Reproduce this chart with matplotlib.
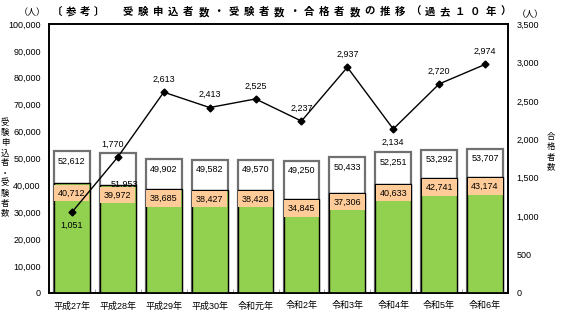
import matplotlib
matplotlib.use("Agg")
import matplotlib.pyplot as plt
import numpy as np

plt.rcParams['font.family'] = ['Liberation Sans', 'Noto Sans CJK JP']

years = ['平成27年', '平成28年', '平成29年', '平成30年', '令和元年',
         '令和2年', '令和3年', '令和4年', '令和5年', '令和6年']
applicants = [52612, 51953, 49902, 49582, 49570, 49250, 50433, 52251, 53292, 53707]
examinees = [40712, 39972, 38685, 38427, 38428, 34845, 37306, 40633, 42741, 43174]
passers = [1051, 1770, 2613, 2413, 2525, 2237, 2937, 2134, 2720, 2974]

fig = plt.figure(figsize=(5.7, 3.22), dpi=100)
ax = fig.add_axes([49 / 570, 29 / 322, 459 / 570, 269 / 322])
x = np.arange(len(years))
w = 0.78

# 受験申込者数（白）と受験者数（緑）
ax.bar(x, applicants, width=w, color='white', edgecolor='#707070', linewidth=1.6, zorder=2)
ax.bar(x, examinees, width=w, color='#92D050', edgecolor='black', linewidth=1.0, zorder=3)

ax.set_xlim(-0.5, len(years) - 0.5)
ax.set_ylim(0, 100000)
ax.set_yticks(np.arange(0, 100001, 10000))
ax.set_yticklabels([f'{v:,}' for v in range(0, 100001, 10000)], fontsize=6.5)
ax.set_xticks(x)
ax.set_xticklabels(years, fontsize=6.5)
ax.set_xticks(x[:-1] + 0.5, minor=True)
ax.tick_params(axis='x', which='major', length=0, pad=6)
ax.tick_params(axis='x', which='minor', length=3, direction='in', color='#999999')
ax.tick_params(axis='y', length=0, pad=6)
for s in ax.spines.values():
    s.set_linewidth(1.2)

# ラベル
for i in range(len(years)):
    off = -4
    dx = 0
    if i == 1:
        off = -19
        dx = 5
    ax.annotate(f'{applicants[i]:,}', (x[i], applicants[i]), xytext=(dx, off),
                textcoords='offset points', ha='center', va='top', fontsize=6.5, zorder=6)
    ax.annotate(f'{examinees[i]:,}', (x[i], examinees[i]), xytext=(0, -3.5),
                textcoords='offset points', ha='center', va='top', fontsize=6.5, zorder=6,
                bbox=dict(boxstyle='square,pad=0.42', fc='#FFCC99', ec='none'))

# 合格者数（右軸）
ax2 = ax.twinx()
ax2.set_ylim(0, 3500)
ax2.set_yticks(np.arange(0, 3501, 500))
ax2.set_yticklabels([f'{v:,}' for v in range(0, 3501, 500)], fontsize=6.5)
ax2.tick_params(axis='y', length=0, pad=6)
for s in ax2.spines.values():
    s.set_linewidth(1.2)
ax2.plot(x, passers, color='black', linewidth=1.0, marker='D', markersize=3.5, zorder=5)
for i in range(len(years)):
    if i in (0, 7):
        xy = (0, -6)
        va = 'top'
    elif i == 1:
        xy = (-4, 6)
        va = 'bottom'
    else:
        xy = (0, 6)
        va = 'bottom'
    ax2.annotate(f'{passers[i]:,}', (x[i], passers[i]), xytext=xy,
                 textcoords='offset points', ha='center', va=va, fontsize=6.5)

# タイトル（字間を広げて一文字ずつ配置）
head = '〔参考〕'
body = '受験申込者数・受験者数・合格者数の推移（過去１０年）'
for k, ch in enumerate(head):
    fig.text((57 + 14 * k) / 570, 1 - 12 / 322, ch, ha='center', va='center',
             fontsize=7.5, fontweight='bold', family='Noto Sans CJK JP')
for k, ch in enumerate(body):
    fig.text((128 + 15.1 * k) / 570, 1 - 12 / 322, ch, ha='center', va='center',
             fontsize=7.5, fontweight='bold', family='Noto Sans CJK JP')

fig.text(32 / 570, 1 - 13 / 322, '（人）', ha='center', va='center', fontsize=6.5,
         family='Noto Sans CJK JP')
fig.text(530 / 570, 1 - 15 / 322, '（人）', ha='center', va='center', fontsize=6.5,
         family='Noto Sans CJK JP')
fig.text(5 / 570, 1 - 168 / 322, '\n'.join('受験申込者・受験者数'), ha='center', va='center',
         fontsize=6, linespacing=1.15, family='Noto Sans CJK JP')
fig.text(551 / 570, 1 - 152 / 322, '\n'.join('合格者数'), ha='center', va='center',
         fontsize=6, linespacing=1.15, family='Noto Sans CJK JP')

fig.savefig('out.png', dpi=100)
